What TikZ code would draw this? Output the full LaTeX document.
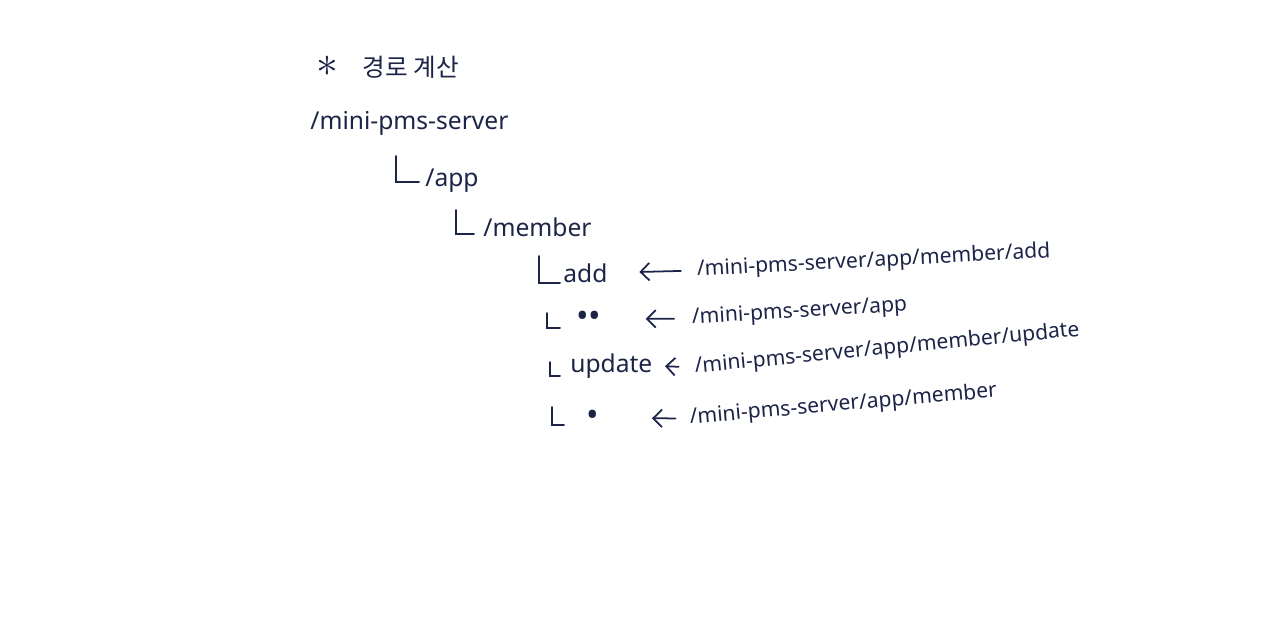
\documentclass[tikz,border=0pt]{standalone}
\usepackage{fontspec}
\setmainfont{Noto Sans}
\newfontfamily\krfont{Noto Sans CJK KR}
\usepackage{xcolor}
\definecolor{ink}{HTML}{1C2447}
\usetikzlibrary{arrows.meta,calc}
\tikzset{>={Straight Barb[length=5pt,width=10pt]}}
\tikzset{dir/.style={anchor=base west, inner sep=0pt, text=ink,
    font=\fontsize{14}{16}\selectfont}}
\tikzset{url/.style={anchor=base west, inner sep=0pt, text=ink,
    font=\fontsize{12}{14}\selectfont}}
\tikzset{elbow/.style={draw=ink, line width=1.1pt, line cap=round}}
\tikzset{back/.style={->, draw=ink, line width=1pt, line cap=round}}

\begin{document}
\begin{tikzpicture}[x=0.02cm,y=-0.02cm]
  \useasboundingbox (0,0) rectangle (1280,635);
  % heading
  \node[dir] (title) at (316,76) {{\fontsize{24}{24}\selectfont$\ast$}\quad{\krfont 경로 계산}};
  % directory tree
  \node[dir] (root) at (310,130) {/mini-pms-server};
  \node[dir] (app) at (425,186) {/app};
  \node[dir] (member) at (483,236) {/member};
  \node[dir] (add) at (563,282) {add};
  \node[dir, font=\fontsize{19}{20}\bfseries] (up) at (576,327) {••};
  \node[dir] (update) at (570,372) {update};
  \node[dir, font=\fontsize{19}{20}\bfseries] (here) at (586,426) {•};
  \draw[elbow] ($(app.base west)+(-29,-30)$) |- ($(app.base west)+(-6,-4)$);
  \draw[elbow] ($(member.base west)+(-27,-26)$) |- ($(member.base west)+(-9,-2)$);
  \draw[elbow] ($(add.base west)+(-24,-26)$) |- ($(add.base west)+(-3,1)$);
  \draw[elbow] ($(up.base west)+(-29,-14)$) |- ($(up.base west)+(-16,1)$);
  \draw[elbow] ($(update.base west)+(-20,-10)$) |- ($(update.base west)+(-10,4)$);
  \draw[elbow] ($(here.base west)+(-34,-19)$) |- ($(here.base west)+(-22,-1)$);
  % resolved paths
  \node[url, rotate=3] (p_add) at (697,276) {/mini-pms-server/app/member/add};
  \node[url, rotate=3.5] (p_up) at (692,324) {/mini-pms-server/app};
  \node[url, rotate=5.5] (p_update) at (695,373) {/mini-pms-server/app/member/update};
  \node[url, rotate=5] (p_here) at (690,424) {/mini-pms-server/app/member};
  \draw[back, shorten >=18pt, shorten <=9pt] (p_add.west) -- (add.east);
  \draw[back, shorten >=25pt, shorten <=10pt] (p_up.west) -- (up.east);
  \draw[back, shorten >=7pt, shorten <=9pt] (p_update.west) -- (update.east);
  \draw[back, shorten >=30pt, shorten <=8pt] (p_here.west) -- (here.east);
\end{tikzpicture}
\end{document}
